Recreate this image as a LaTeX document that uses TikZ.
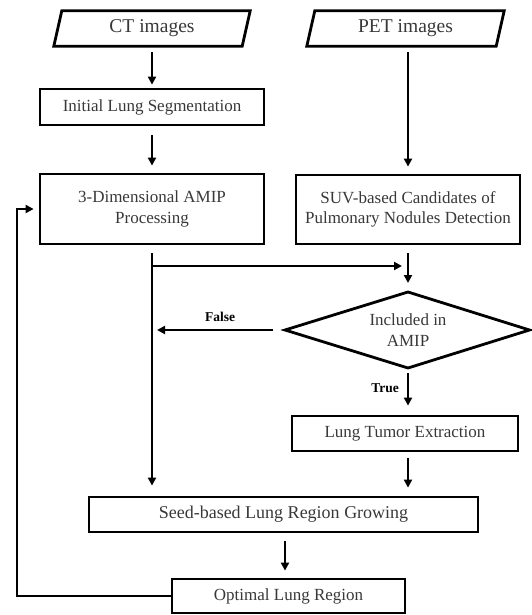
\documentclass[tikz,border=0pt]{standalone}
\usepackage{fontspec}
\setmainfont{Liberation Serif}
\usetikzlibrary{arrows.meta,calc}
\begin{document}
\begin{tikzpicture}[x=1pt,y=-1pt,
  txt/.style={text=black!78,font=\fontsize{17}{20.5}\selectfont,align=center,inner sep=0pt},
  procbox/.style={txt,draw=black,line width=2.8pt,minimum height=35pt},
  iobox/.style={txt,font=\fontsize{19.5}{22}\selectfont,minimum height=35pt},
  iooutline/.style={draw=black,line width=2.8pt,line join=miter},
  decision/.style={txt},
  arr/.style={draw=black,line width=2.4pt,-{Triangle[length=8pt,width=8pt]}},
  lbl/.style={font=\fontsize{13.5}{15}\selectfont\bfseries,text=black,inner sep=0pt}
]
\useasboundingbox (0,0) rectangle (531,615);

% input parallelograms
\node[iobox,minimum width=196pt] (ct) at (152,28.5) {CT images};
\draw[iooutline] ([xshift=8pt]ct.north west) -- (ct.north east) -- ([xshift=-8pt]ct.south east) -- (ct.south west) -- cycle;
\node[iobox,minimum width=197pt] (pet) at (405.5,28.5) {PET images};
\draw[iooutline] ([xshift=8pt]pet.north west) -- (pet.north east) -- ([xshift=-8pt]pet.south east) -- (pet.south west) -- cycle;

% process boxes
\node[procbox,minimum width=224pt,minimum height=36pt] (init) at (152,107) {Initial Lung Segmentation};
\node[procbox,minimum width=224pt,minimum height=70pt] (amip) at (152,209) {3-Dimensional AMIP\\Processing};
\node[procbox,minimum width=224pt,minimum height=69pt] (suv) at (408,209.5) {SUV-based Candidates of\\Pulmonary Nodules Detection};

% decision diamond
\node[decision] (dia) at (408,330) {Included in\\AMIP};
\coordinate (dn) at (408,292);
\coordinate (ds) at (408,368);
\coordinate (dw) at (285,330);
\coordinate (de) at (529.5,330);
\draw[iooutline] (dn) -- (de) -- (ds) -- (dw) -- cycle;

\node[procbox,minimum width=226pt] (tumor) at (405,433.5) {Lung Tumor Extraction};
\node[procbox,minimum width=389pt,font=\fontsize{18}{21}\selectfont] (seed) at (283.5,514.5) {Seed-based Lung Region Growing};
\node[procbox,minimum width=233pt,minimum height=34pt] (opt) at (288.5,596) {Optimal Lung Region};

% connectors
\draw[arr,shorten <=6pt,shorten >=3pt] (ct.south) -- (init.north);
\draw[arr,shorten <=9pt,shorten >=7pt] (init.south) -- (amip.north);
\draw[arr,shorten <=6pt,shorten >=7pt] (pet.south -| suv.north) -- (suv.north);
\draw[arr,shorten <=8pt,shorten >=10pt] (amip.south) -- (amip.south |- seed.north);
\coordinate (br) at (152,266);
\draw[arr,shorten >=6pt] (br) -- (br -| suv.south);
\draw[arr,shorten <=8pt,shorten >=9pt] (suv.south) -- (dn);
\draw[arr,shorten <=12pt,shorten >=5pt] (dw) -- (dw -| amip.south);
\node[lbl] (flabel) at (220,317) {False};
\draw[arr,shorten <=5pt,shorten >=9pt] (ds) -- (ds |- tumor.north);
\node[lbl] (tlabel) at (385,388) {True};
\draw[arr,shorten <=6pt,shorten >=8pt] (ds |- tumor.south) -- (ds |- seed.north);
\draw[arr,shorten <=8pt,shorten >=7pt] ([xshift=1.5pt]seed.south) -- ([xshift=1.5pt]seed.south |- opt.north);
\coordinate (fb) at (17,0);
\draw[arr,shorten >=5pt,line join=miter] (opt.west) -- (fb |- opt.west) -- (fb |- amip.west) -- (amip.west);
\end{tikzpicture}
\end{document}
